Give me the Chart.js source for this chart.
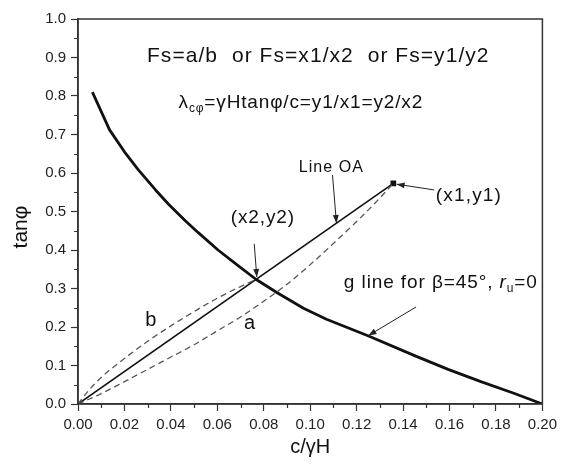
<!DOCTYPE html>
<html>
<head>
<meta charset="utf-8">
<script src="https://cdn.jsdelivr.net/npm/chart.js@4/dist/chart.umd.min.js"></script>
<style>
  body { margin: 0; background: #fff; }
  canvas { display: block; }
</style>
</head>
<body>
<canvas id="chart" width="562" height="465"></canvas>
<script>
// DATA
// g line for beta=45, ru=0
const gX = [0.0062, 0.0136, 0.020, 0.026, 0.0334, 0.039, 0.0462, 0.0518, 0.0603, 0.0688, 0.0766,
            0.0858, 0.0971, 0.107, 0.1254, 0.1452, 0.1594, 0.1735, 0.1877, 0.200];
const gY = [0.81, 0.712, 0.655, 0.608, 0.556, 0.519, 0.476, 0.445, 0.400, 0.360, 0.324,
            0.289, 0.2485, 0.220, 0.176, 0.125, 0.090, 0.058, 0.028, 0.0];

// Line OA
const oaX = [0, 0.1358];
const oaY = [0, 0.573];

// dashed curve a (below OA, ends at x1,y1)
const aX = [0, 0.01, 0.02, 0.03, 0.04, 0.05, 0.06, 0.07, 0.08, 0.09, 0.10, 0.11, 0.12, 0.13, 0.1358];
const aY = [0, 0.027, 0.058, 0.09, 0.122, 0.154, 0.19, 0.226, 0.267, 0.311, 0.362, 0.417, 0.474, 0.535, 0.573];

// dashed curve b (above OA, ends at x2,y2)
const bX = [0, 0.004, 0.01, 0.02, 0.03, 0.04, 0.05, 0.06, 0.07, 0.0766];
const bY = [0, 0.031, 0.069, 0.118, 0.163, 0.203, 0.240, 0.275, 0.305, 0.323];

// point (x1,y1)
const p1X = [0.1358];
const p1Y = [0.573];

const xMinorTicks = [0.01, 0.03, 0.05, 0.07, 0.09, 0.11, 0.13, 0.15, 0.17, 0.19];
const yMinorTicks = [0.05, 0.15, 0.25, 0.35, 0.45, 0.55, 0.65, 0.75, 0.85, 0.95];

const FONT = "Arial, 'Liberation Sans', sans-serif";
const INK = '#111';

function pts(xs, ys) {
  return xs.map((x, i) => ({ x, y: ys[i] }));
}

// ================================
// Annotations (text + arrows), anchored in data units
// ================================
const texts = [
  { x: 0.0297, y: 0.904, right: 0.1772, segs: [{ t: 'Fs=a/b  or Fs=x1/x2  or Fs=y1/y2', size: 21 }] },
  { x: 0.0433, y: 0.782, right: 0.1486, segs: [
      { t: 'λ', size: 19 },
      { t: 'cφ', size: 12, dy: 6 },
      { t: '=γHtanφ/c=y1/x1=y2/x2', size: 19 }] },
  { x: 0.0951, y: 0.613, right: 0.1231, segs: [{ t: 'Line OA', size: 16 }] },
  { x: 0.0658, y: 0.483, right: 0.0934, segs: [{ t: '(x2,y2)', size: 19 }] },
  { x: 0.1541, y: 0.540, right: 0.1826, segs: [{ t: '(x1,y1)', size: 19 }] },
  { x: 0.0290, y: 0.216, segs: [{ t: 'b', size: 20 }] },
  { x: 0.0715, y: 0.210, segs: [{ t: 'a', size: 20 }] },
  { x: 0.1145, y: 0.314, right: 0.198, segs: [
      { t: 'g line for β=45°, ', size: 19 },
      { t: 'r', size: 19, italic: true },
      { t: 'u', size: 12, dy: 6 },
      { t: '=0', size: 19 }] }
];

const arrows = [
  { from: [0.1096, 0.595], to: [0.1113, 0.470] },
  { from: [0.0759, 0.416], to: [0.0770, 0.330] },
  { from: [0.1534, 0.556], to: [0.1372, 0.571] },
  { from: [0.1456, 0.252], to: [0.1251, 0.178] }
];

function segFont(s) {
  return (s.italic ? 'italic ' : '') + s.size + 'px ' + FONT;
}

function drawSegs(ctx, item, xs, ys) {
  const x0 = xs.getPixelForValue(item.x);
  const cy = ys.getPixelForValue(item.y);
  ctx.letterSpacing = '0px';
  let natural = 0, count = 0;
  item.segs.forEach(s => {
    ctx.font = segFont(s);
    natural += ctx.measureText(s.t).width;
    count += s.t.length;
  });
  let spacing = 0;
  if (item.right !== undefined) {
    const x1 = xs.getPixelForValue(item.right);
    spacing = Math.max(0, (x1 - x0 - natural) / count);
  }
  let x = x0;
  ctx.fillStyle = INK;
  ctx.textBaseline = 'middle';
  ctx.textAlign = 'left';
  item.segs.forEach(s => {
    ctx.font = segFont(s);
    ctx.letterSpacing = spacing.toFixed(2) + 'px';
    ctx.fillText(s.t, x, cy + (s.dy || 0));
    x += ctx.measureText(s.t).width;
  });
  ctx.letterSpacing = '0px';
}

function drawArrow(ctx, fx, fy, tx, ty) {
  ctx.strokeStyle = '#222';
  ctx.fillStyle = '#222';
  ctx.lineWidth = 1;
  ctx.beginPath();
  ctx.moveTo(fx, fy);
  ctx.lineTo(tx, ty);
  ctx.stroke();
  const ang = Math.atan2(ty - fy, tx - fx);
  const len = 8, half = 3;
  ctx.beginPath();
  ctx.moveTo(tx, ty);
  ctx.lineTo(tx - len * Math.cos(ang) + half * Math.sin(ang), ty - len * Math.sin(ang) - half * Math.cos(ang));
  ctx.lineTo(tx - len * Math.cos(ang) - half * Math.sin(ang), ty - len * Math.sin(ang) + half * Math.cos(ang));
  ctx.closePath();
  ctx.fill();
}

const decorPlugin = {
  id: 'decor',
  afterDraw(chart) {
    const ctx = chart.ctx;
    const area = chart.chartArea;
    const xs = chart.scales.x;
    const ys = chart.scales.y;
    ctx.save();

    // frame
    ctx.strokeStyle = '#333';
    ctx.lineWidth = 1.5;
    ctx.strokeRect(area.left, area.top, area.right - area.left, area.bottom - area.top);

    // minor ticks
    ctx.lineWidth = 1.2;
    ctx.beginPath();
    xMinorTicks.forEach(v => {
      const px = Math.round(xs.getPixelForValue(v)) + 0.5;
      ctx.moveTo(px, area.bottom);
      ctx.lineTo(px, area.bottom + 4);
    });
    yMinorTicks.forEach(v => {
      const py = Math.round(ys.getPixelForValue(v)) + 0.5;
      ctx.moveTo(area.left, py);
      ctx.lineTo(area.left - 4, py);
    });
    ctx.stroke();

    // axis titles
    ctx.fillStyle = INK;
    ctx.font = '20px ' + FONT;
    ctx.textAlign = 'center';
    ctx.textBaseline = 'middle';
    ctx.fillText('c/γH', (area.left + area.right) / 2, 447);
    ctx.save();
    ctx.translate(21, 227);
    ctx.rotate(-Math.PI / 2);
    ctx.font = '21px ' + FONT;
    ctx.fillText('tanφ', 0, 0);
    ctx.restore();

    // annotations
    texts.forEach(t => drawSegs(ctx, t, xs, ys));
    arrows.forEach(a => drawArrow(ctx,
      xs.getPixelForValue(a.from[0]), ys.getPixelForValue(a.from[1]),
      xs.getPixelForValue(a.to[0]), ys.getPixelForValue(a.to[1])));

    ctx.restore();
  }
};

// ================================
// Chart
// ================================
const axisCommon = {
  type: 'linear',
  border: { display: true, color: '#333', width: 1.5 },
  grid: { drawOnChartArea: false, drawTicks: true, tickLength: 7, tickColor: '#333', tickWidth: 1.2 }
};

new Chart(document.getElementById('chart'), {
  type: 'scatter',
  data: {
    datasets: [
      {
        label: 'b', data: pts(bX, bY), showLine: true, pointRadius: 0,
        borderColor: '#555', borderWidth: 1.3, borderDash: [6, 4], cubicInterpolationMode: 'monotone'
      },
      {
        label: 'a', data: pts(aX, aY), showLine: true, pointRadius: 0,
        borderColor: '#555', borderWidth: 1.3, borderDash: [6, 4], cubicInterpolationMode: 'monotone'
      },
      {
        label: 'Line OA', data: pts(oaX, oaY), showLine: true, pointRadius: 0,
        borderColor: INK, borderWidth: 1.6
      },
      {
        label: 'g line', data: pts(gX, gY), showLine: true, pointRadius: 0,
        borderColor: INK, borderWidth: 2.8, borderJoinStyle: 'round'
      },
      {
        label: '(x1,y1)', data: pts(p1X, p1Y), showLine: false,
        pointStyle: 'rect', pointRadius: 4, backgroundColor: INK, borderColor: INK, borderWidth: 0
      }
    ]
  },
  options: {
    responsive: false,
    animation: false,
    devicePixelRatio: 1,
    layout: { padding: { left: 0, top: 19, right: 13, bottom: 0 } },
    plugins: { legend: { display: false }, tooltip: { enabled: false } },
    scales: {
      x: {
        ...axisCommon,
        min: 0, max: 0.2,
        afterFit: s => { s.height = 61; },
        ticks: {
          stepSize: 0.02, padding: 5, color: '#222',
          font: { family: FONT, size: 15 },
          callback: v => v.toFixed(2)
        }
      },
      y: {
        ...axisCommon,
        min: 0, max: 1,
        afterFit: s => { s.width = 78; },
        ticks: {
          stepSize: 0.1, padding: 5, color: '#222',
          font: { family: FONT, size: 15 },
          callback: v => v.toFixed(1)
        }
      }
    }
  },
  plugins: [decorPlugin]
});
</script>
</body>
</html>
